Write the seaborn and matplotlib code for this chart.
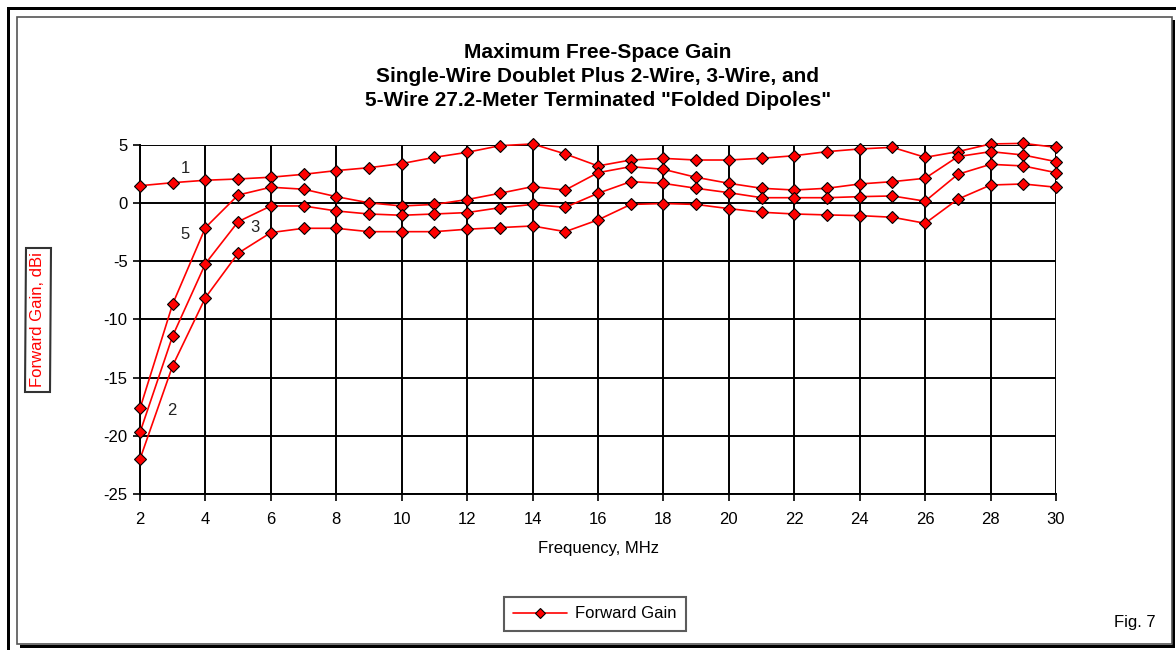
import matplotlib
matplotlib.use("Agg")
import matplotlib.pyplot as plt
import seaborn as sns
import pandas as pd
import numpy as np
from matplotlib.lines import Line2D
from matplotlib.patches import Rectangle

freq = list(range(2, 31))

gain_1wire = [1.5, 1.76, 1.97, 2.08, 2.23, 2.48, 2.8, 3.05, 3.4,
              3.94, 4.37, 4.94, 5.09, 4.23, 3.2, 3.71, 3.85, 3.71, 3.71,
              3.86, 4.08, 4.43, 4.66, 4.8, 3.94, 4.43, 5.09, 5.14, 4.8]
gain_5wire = [-17.65, -8.66, -2.1, 0.7, 1.37, 1.2, 0.56, 0.03, -0.24,
              -0.11, 0.31, 0.85, 1.42, 1.13, 2.62, 3.14, 2.91, 2.22, 1.71,
              1.28, 1.13, 1.28, 1.65, 1.85, 2.14, 4.0, 4.43, 4.14, 3.57]
gain_3wire = [-19.7, -11.4, -5.2, -1.59, -0.24, -0.24, -0.67, -0.93, -1.04,
              -0.93, -0.81, -0.39, -0.11, -0.36, 0.85, 1.85, 1.7, 1.28, 0.9,
              0.47, 0.47, 0.47, 0.56, 0.62, 0.17, 2.48, 3.34, 3.2, 2.62]
gain_2wire = [-22.0, -13.96, -8.12, -4.3, -2.53, -2.16, -2.16, -2.45, -2.45,
              -2.45, -2.24, -2.1, -1.96, -2.45, -1.44, -0.11, -0.03, -0.11, -0.47,
              -0.78, -0.93, -1.01, -1.07, -1.21, -1.73, 0.34, 1.56, 1.65, 1.37]

series = {"1": gain_1wire, "5": gain_5wire, "3": gain_3wire, "2": gain_2wire}
label_pos = {"1": (3.38, 3.0), "5": (3.38, -2.73), "3": (5.52, -2.13), "2": (2.98, -17.85)}

title_lines = ["Maximum Free-Space Gain",
               "Single-Wire Doublet Plus 2-Wire, 3-Wire, and",
               "5-Wire 27.2-Meter Terminated \"Folded Dipoles\""]
x_ticks = list(range(2, 31, 2))
y_ticks = list(range(-25, 6, 5))

sns.set_theme(style="white")
plt.rcParams['font.family'] = ['Liberation Sans', 'DejaVu Sans']
plt.rcParams['axes.unicode_minus'] = False
plt.rcParams['text.color'] = 'black'

fig = plt.figure(figsize=(11.76, 6.5), dpi=100)
ax = fig.add_axes([140/1176, 1-494/650, (1056-140)/1176, (494-145)/650])

for name, vals in series.items():
    df = pd.DataFrame({"Frequency": freq, "Gain": vals})
    sns.lineplot(data=df, x="Frequency", y="Gain", ax=ax, color="#ff0000",
                 linewidth=1.2, marker="D", markersize=6.5,
                 markerfacecolor="#ff0000", markeredgecolor="black",
                 markeredgewidth=0.8, legend=False, zorder=3, clip_on=False)
    tx, ty = label_pos[name]
    ax.text(tx, ty, name, fontsize=12, color="#222222", ha="center", va="center")

ax.set_xlim(2, 30)
ax.set_ylim(-25, 5)
ax.set_xticks(x_ticks)
ax.set_yticks(y_ticks)
ax.tick_params(axis="x", labelsize=12, colors="black", length=5, direction="out",
               bottom=True, width=1.2, pad=8)
ax.tick_params(axis="y", labelsize=12, colors="black", length=5, direction="out",
               left=True, width=1.2, pad=4)
ax.grid(True, color="black", linewidth=1.4)
for side in ["top", "right"]:
    ax.spines[side].set_visible(False)
for side in ["left", "bottom"]:
    ax.spines[side].set_color("black")
    ax.spines[side].set_linewidth(1.4)
ax.set_xlabel("Frequency, MHz", fontsize=12, color="black", labelpad=10)
ax.set_ylabel("")

# y label in box
fig.text(38/1176, 1-320/650, "Forward Gain, dBi", rotation=90, fontsize=12,
         color="#ff0000", ha="center", va="center",
         bbox=dict(boxstyle="square,pad=0.3", facecolor="white", edgecolor="#333333", linewidth=1.5))

# title
for i, line in enumerate(title_lines):
    fig.text(598/1176, 1-(52+24.5*i)/650, line, fontsize=15, fontweight="bold",
             ha="center", va="center", color="black")

# legend
handle = Line2D([], [], color="#ff0000", linewidth=1.2, marker="D", markersize=5.5,
                markerfacecolor="#ff0000", markeredgecolor="black", markeredgewidth=0.8)
leg = fig.legend([handle], ["Forward Gain"], loc="center", bbox_to_anchor=(595/1176, 1-614/650),
                 fontsize=12, frameon=True, fancybox=False, edgecolor="#333333",
                 handlelength=3.2, borderpad=0.55, handletextpad=0.5, labelcolor="black")
leg.get_frame().set_linewidth(1.5)

fig.text(1135/1176, 1-622/650, "Fig. 7", fontsize=12, ha="center", va="center", color="black")

# frames
fig.patches.append(Rectangle((7/1176, 1-10/650), (1176-7)/1176, 3/650, transform=fig.transFigure,
                             facecolor="black", edgecolor="none", zorder=0))
fig.patches.append(Rectangle((7/1176, 0), 3/1176, 1-7/650, transform=fig.transFigure,
                             facecolor="black", edgecolor="none", zorder=0))
fig.patches.append(Rectangle((20/1176, 1-648/650), (1175-20)/1176, 3/650, transform=fig.transFigure,
                             facecolor="black", edgecolor="none", zorder=0))
fig.patches.append(Rectangle((1172/1176, 1-648/650), 3/1176, (648-20)/650, transform=fig.transFigure,
                             facecolor="black", edgecolor="none", zorder=0))
fig.patches.append(Rectangle((17/1176, 1-644/650), (1172-17)/1176, (644-17)/650, transform=fig.transFigure,
                             facecolor="none", edgecolor="#555555", linewidth=1.2, zorder=0))

fig.savefig("out.png", dpi=100)
